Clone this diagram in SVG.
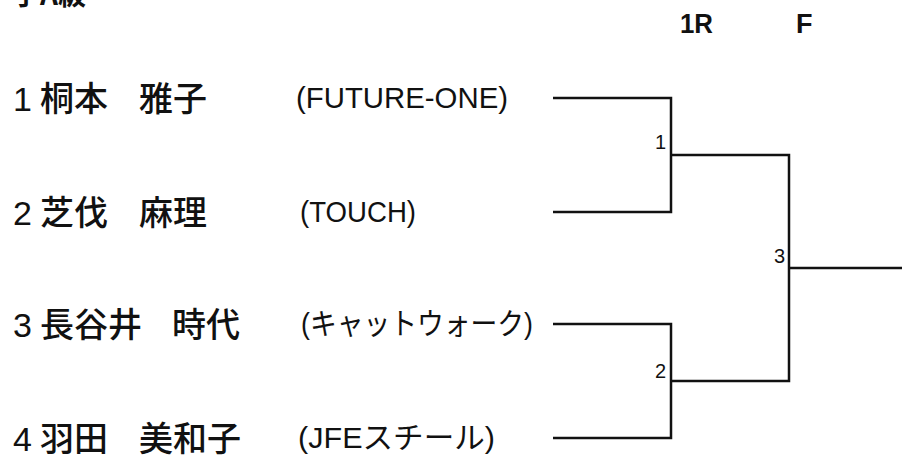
<svg xmlns="http://www.w3.org/2000/svg" width="902" height="461" viewBox="0 0 902 461">
<style>
.nm{font-family:"Liberation Sans","Noto Sans CJK JP",sans-serif;font-size:34px;fill:#111}
.cj{font-family:"Noto Sans CJK JP",sans-serif;font-size:34px;font-weight:500;fill:#111}
.tm{font-family:"Liberation Sans","Noto Sans CJK JP",sans-serif;font-size:30px;fill:#111}
.hd{font-family:"Liberation Sans",sans-serif;font-size:27px;font-weight:bold;fill:#111}
.lb{font-family:"Liberation Sans",sans-serif;font-size:20px;fill:#111;text-anchor:end}
.ln{fill:none;stroke:#111;stroke-width:2.5}
</style>
<rect width="902" height="461" fill="#fff"/>
<g id="title"><text x="12" y="5" style="font-family:'Noto Sans CJK JP',sans-serif;font-size:28px;font-weight:bold;fill:#111">子A級</text></g>
<g id="headers"><text class="hd" x="680" y="33" textLength="33" lengthAdjust="spacingAndGlyphs">1R</text><text class="hd" x="796" y="33">F</text></g>
<g id="p1"><text class="nm" x="13" y="111">1</text><text class="cj" x="40" y="111">桐本</text><text class="cj" x="139" y="111">雅子</text><text class="tm" x="296" y="108" textLength="212" lengthAdjust="spacingAndGlyphs">(FUTURE-ONE)</text></g>
<g id="p2"><text class="nm" x="13" y="225">2</text><text class="cj" x="40" y="225">芝伐</text><text class="cj" x="139" y="225">麻理</text><text class="tm" x="300" y="222" textLength="116" lengthAdjust="spacingAndGlyphs">(TOUCH)</text></g>
<g id="p3"><text class="nm" x="13" y="337">3</text><text class="cj" x="40" y="337">長谷井</text><text class="cj" x="172" y="337">時代</text><text class="tm" x="301" y="334" textLength="232" lengthAdjust="spacingAndGlyphs">(キャットウォーク)</text></g>
<g id="p4"><text class="nm" x="13" y="451">4</text><text class="cj" x="40" y="451">羽田</text><text class="cj" x="139" y="451">美和子</text><text class="tm" x="298" y="448" textLength="197" lengthAdjust="spacingAndGlyphs">(JFEスチール)</text></g>
<g id="connectors">
<path class="ln" d="M553,98H671V212H553"/>
<path class="ln" d="M553,324H671V438H553"/>
<path class="ln" d="M671,155H789V381H671"/>
<path class="ln" d="M789,268H902"/>
</g>
<g id="labels"><text class="lb" x="666" y="149">1</text><text class="lb" x="666" y="378">2</text><text class="lb" x="785" y="263">3</text></g>
</svg>
